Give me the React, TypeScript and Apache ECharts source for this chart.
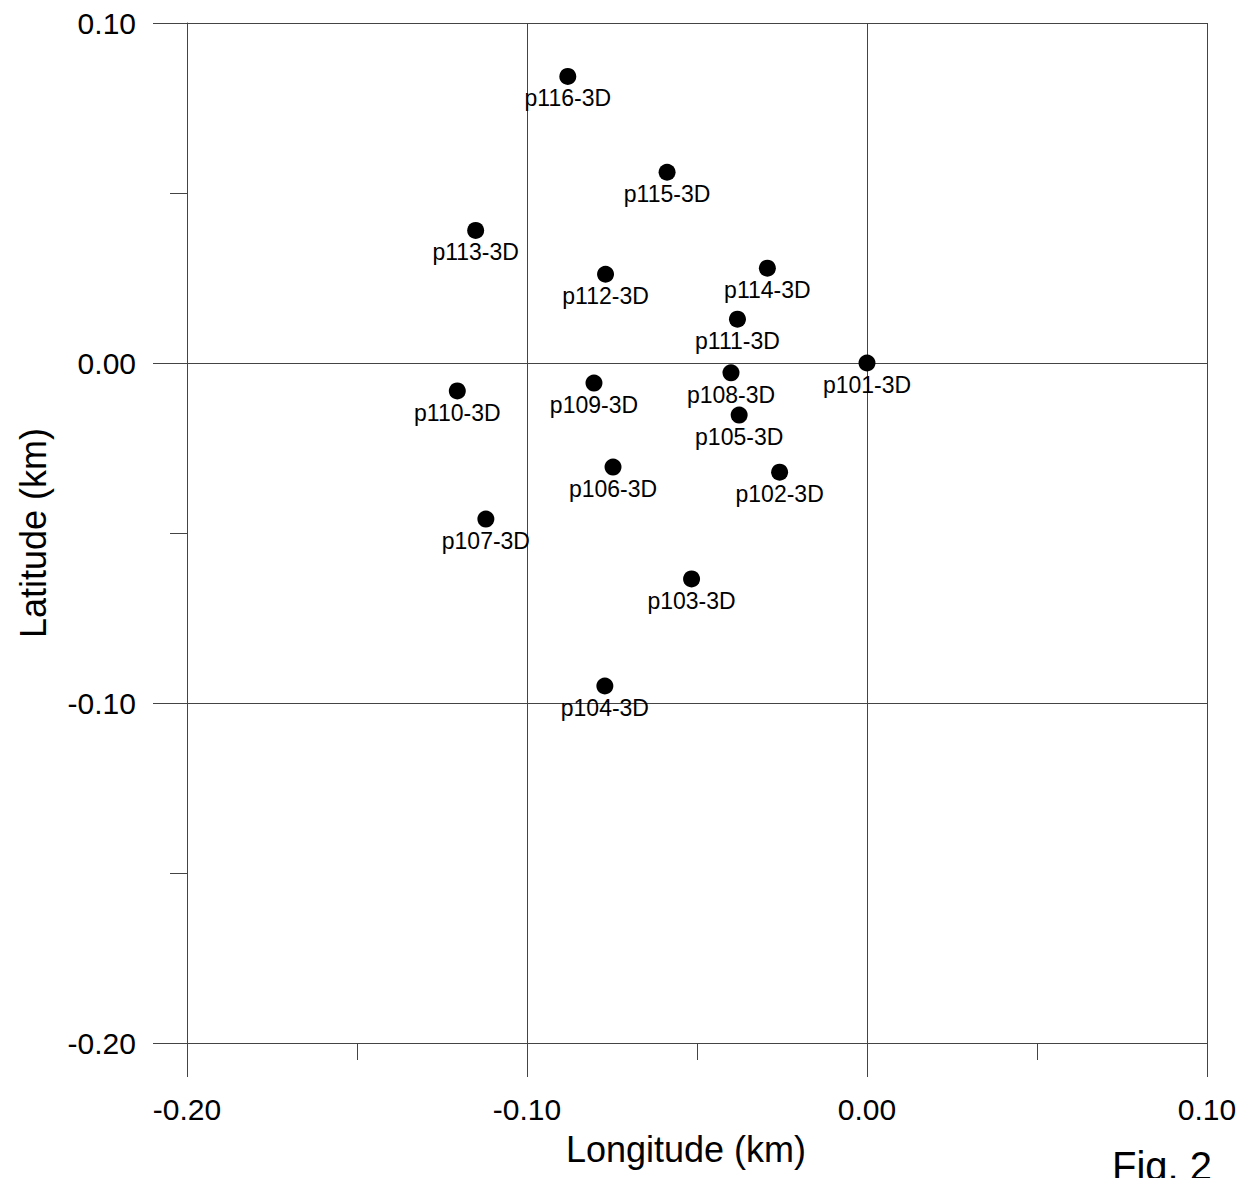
import React, { useEffect, useRef } from "react";
import * as echarts from "echarts";

const pointNames = [
  "p116-3D", "p115-3D", "p113-3D", "p112-3D", "p114-3D", "p111-3D", "p101-3D", "p108-3D",
  "p110-3D", "p109-3D", "p105-3D", "p106-3D", "p102-3D", "p107-3D", "p103-3D", "p104-3D",
];
const longitudes = [
  -0.0880, -0.0588, -0.1151, -0.0769, -0.0293, -0.0381, 0.0, -0.0400,
  -0.1205, -0.0803, -0.0376, -0.0747, -0.0257, -0.1121, -0.0516, -0.0771,
];
const latitudes = [
  0.0843, 0.0561, 0.0390, 0.0261, 0.0279, 0.0129, 0.0, -0.0029,
  -0.0082, -0.0059, -0.0153, -0.0306, -0.0321, -0.0459, -0.0635, -0.0950,
];
const axisMin = -0.2;
const axisMax = 0.1;
const majorStep = 0.1;
const minorStep = 0.05;

const FONT = "Arial, 'Liberation Sans', Helvetica, sans-serif";
const LINE = "#444444";

const fmt = (v: number) => (Math.abs(v) < 1e-9 ? 0 : v).toFixed(2);

export default function App() {
  const ref = useRef<HTMLDivElement>(null);
  useEffect(() => {
    if (!ref.current) return;
    const chart = echarts.init(ref.current, undefined, { renderer: "svg" });
    const majorAxis = (name: string, nameGap: number, padding: number[]) => ({
      type: "value",
      min: axisMin,
      max: axisMax,
      interval: majorStep,
      name,
      nameLocation: "middle",
      nameGap,
      nameTextStyle: { fontFamily: FONT, fontSize: 36, color: "#000", padding },
      axisLine: { show: true, onZero: false, lineStyle: { color: LINE, width: 1 } },
      axisTick: { show: true, inside: false, length: 34, lineStyle: { color: LINE, width: 1 } },
      axisLabel: { show: true, formatter: fmt, fontFamily: FONT, fontSize: 30, color: "#000", margin: 51 },
      splitLine: { show: true, lineStyle: { color: LINE, width: 1 } },
    });
    const minorAxis = (position: string) => ({
      type: "value",
      min: axisMin,
      max: axisMax,
      interval: minorStep,
      position,
      axisLine: { show: false, onZero: false },
      axisTick: { show: true, inside: false, length: 17, lineStyle: { color: LINE, width: 1 } },
      axisLabel: { show: false },
      splitLine: { show: false },
    });
    chart.setOption({
      animation: false,
      backgroundColor: "#fff",
      grid: { left: 187, right: 45, top: 23, bottom: 135, containLabel: false },
      xAxis: [
        { ...majorAxis("Longitude (km)", 88, [0, 22, 0, 0]), position: "bottom" },
        minorAxis("bottom"),
      ],
      yAxis: [
        { ...majorAxis("Latitude (km)", 136, [0, 0, 0, 0]), position: "left" },
        minorAxis("left"),
      ],
      series: [
        {
          type: "scatter",
          xAxisIndex: 0,
          yAxisIndex: 0,
          symbol: "circle",
          symbolSize: 17,
          itemStyle: { color: "#000", opacity: 1 },
          label: {
            show: true,
            position: "bottom",
            distance: 2,
            formatter: (p: any) => p.name,
            fontFamily: FONT,
            fontSize: 23,
            color: "#000",
          },
          data: pointNames.map((n, i) => ({ name: n, value: [longitudes[i], latitudes[i]] })),
        },
      ],
      graphic: [
        {
          type: "text",
          left: 1112,
          top: 1146,
          style: { text: "Fig. 2", font: `40px ${FONT}`, fill: "#000" },
        },
      ],
    });
    return () => chart.dispose();
  }, []);
  return (
    <div
      ref={ref}
      style={{ position: "fixed", left: 0, top: 0, width: 1252, height: 1178, background: "#fff" }}
    />
  );
}
